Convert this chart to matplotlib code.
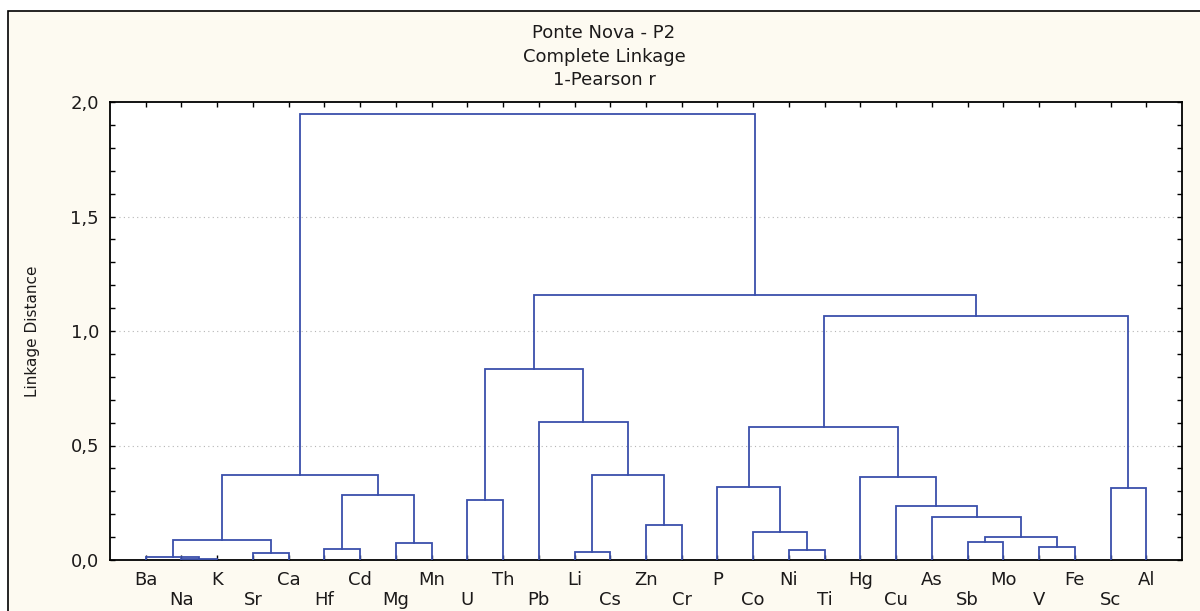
import matplotlib
matplotlib.use("Agg")
import matplotlib.pyplot as plt
from matplotlib.patches import Rectangle
from matplotlib.ticker import MultipleLocator

# folhas do dendrograma (ordem do eixo X)
leaves = ['Ba', 'Na', 'K', 'Sr', 'Ca', 'Hf', 'Cd', 'Mg', 'Mn', 'U', 'Th', 'Pb',
          'Li', 'Cs', 'Zn', 'Cr', 'P', 'Co', 'Ni', 'Ti', 'Hg', 'Cu', 'As', 'Sb',
          'Mo', 'V', 'Fe', 'Sc', 'Al']

# fusoes: indices 0..28 sao folhas, 29+ sao grupos novos (como scipy linkage)
merge_a = [1, 0, 3, 30, 5, 7, 33, 32, 9, 12, 14, 38, 11, 37,
           18, 17, 16, 23, 25, 46, 22, 21, 20, 45, 27, 52, 42, 36]
merge_b = [2, 29, 4, 31, 6, 8, 34, 35, 10, 13, 15, 39, 40, 41,
           19, 43, 44, 24, 26, 47, 48, 49, 50, 51, 28, 53, 54, 55]
merge_h = [0.005, 0.015, 0.029, 0.087, 0.048, 0.073, 0.283, 0.373,
           0.262, 0.036, 0.151, 0.373, 0.601, 0.834,
           0.045, 0.121, 0.320, 0.079, 0.058, 0.100, 0.189, 0.236, 0.361,
           0.581, 0.314, 1.066, 1.157, 1.948]

y_ticks = [0.0, 0.5, 1.0, 1.5, 2.0]
y_labels = ['0,0', '0,5', '1,0', '1,5', '2,0']
title_lines = ["Ponte Nova - P2", "Complete Linkage", "1-Pearson r"]

cor_linha = '#3a4fab'
cor_texto = '#1c1a1a'
fundo = '#fdfaf1'

fig = plt.figure(figsize=(12, 6.11), dpi=100)
fig.patch.set_facecolor('white')

# moldura externa creme
fig.patches.append(Rectangle((8 / 1200, -0.05), 1.1, 1 - 11 / 611 + 0.05,
                             transform=fig.transFigure, facecolor=fundo,
                             edgecolor='black', linewidth=1.2, zorder=-10))

ax = fig.add_axes([110 / 1200, 51 / 611, 1072 / 1200, 458 / 611])
ax.set_facecolor('white')
ax.set_zorder(5)

# posicoes e alturas dos nos
pos_x = [i + 1 for i in range(len(leaves))]
alt = [0.0] * len(leaves)
for a, b, h in zip(merge_a, merge_b, merge_h):
    xa, xb = pos_x[a], pos_x[b]
    ax.plot([xa, xa, xb, xb], [alt[a], h, h, alt[b]], color=cor_linha,
            linewidth=1.3, solid_joinstyle='miter', zorder=3)
    pos_x.append((xa + xb) / 2)
    alt.append(h)

ax.set_xlim(0, len(leaves) + 1)
ax.set_ylim(0, 2.0)

# rotulos do eixo X em duas linhas alternadas
ax.set_xticks(range(1, len(leaves) + 1))
ax.set_xticklabels([n if i % 2 == 0 else '\n' + n for i, n in enumerate(leaves)],
                   fontsize=13, color=cor_texto, family='DejaVu Sans',
                   linespacing=1.15)
ax.set_yticks(y_ticks)
ax.set_yticklabels(y_labels, fontsize=13, color=cor_texto, family='DejaVu Sans')
ax.yaxis.set_minor_locator(MultipleLocator(0.1))

ax.tick_params(axis='x', direction='in', top=True, bottom=True, length=3.5,
               width=1, pad=8)
ax.tick_params(axis='y', which='both', direction='in', left=True, right=True,
               length=3.5, width=1, pad=8)

for s in ax.spines.values():
    s.set_linewidth(1.3)
    s.set_color('black')

# grade pontilhada
for yv in y_ticks[1:-1]:
    ax.axhline(yv, color='#b5b5b5', linewidth=0.8, linestyle=(0, (1, 3)), zorder=1)

ax.set_ylabel("Linkage Distance", fontsize=11, color=cor_texto,
              family='DejaVu Sans', labelpad=0)
ax.yaxis.set_label_coords(-70 / 1072, 0.5)

# titulo
for i, t in enumerate(title_lines):
    fig.text(604 / 1200, 1 - (33 + 23.5 * i) / 611, t, ha='center', va='center',
             fontsize=13, color=cor_texto, family='DejaVu Sans')

fig.savefig('out.png', dpi=100, facecolor=fig.get_facecolor())
